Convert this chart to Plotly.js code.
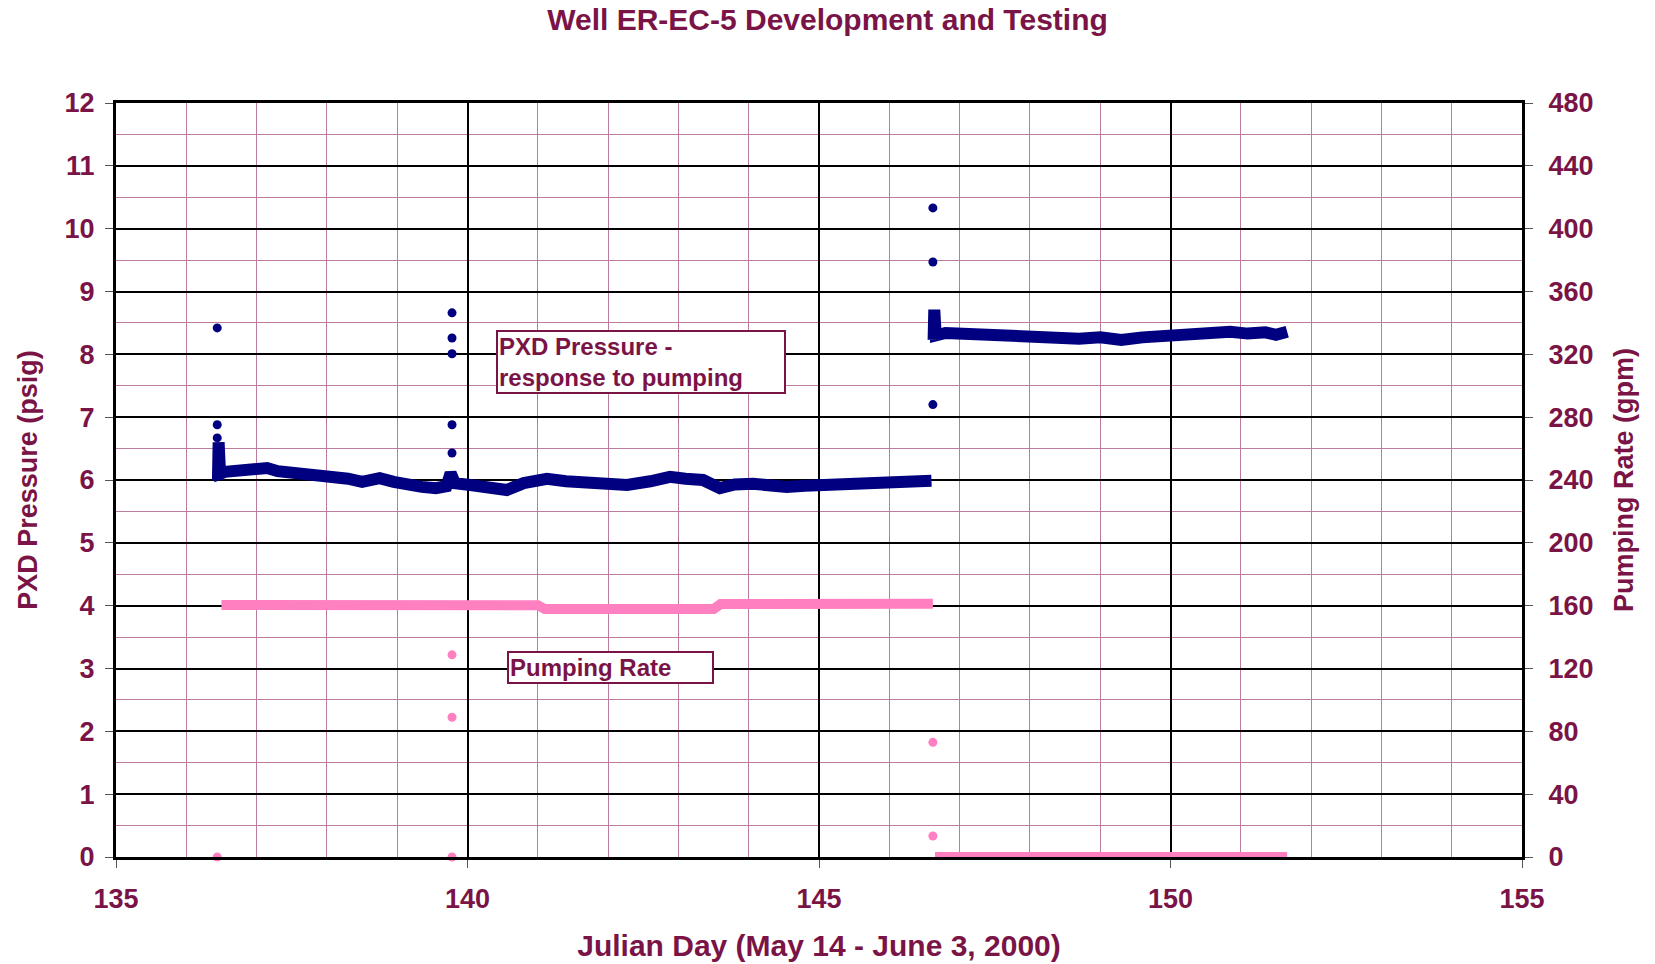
<!DOCTYPE html>
<html>
<head>
<meta charset="utf-8">
<script src="https://cdn.plot.ly/plotly-3.0.1.min.js"></script>
<style>
  html, body { margin: 0; padding: 0; background: #ffffff; }
  #chart { width: 1655px; height: 964px; }
</style>
</head>
<body>
<div id="chart"></div>
<script>
// Well ER-EC-5: transducer pressure and pumping rate by Julian day

// PXD pressure (psig), first pumping period
const pressureDayA = [136.45, 136.46, 136.48, 136.55, 136.8, 137.0, 137.15, 137.3, 137.6, 137.8,
  138.04, 138.3, 138.5, 138.75, 138.95, 139.14, 139.35, 139.55, 139.7, 139.76, 139.82,
  140.04, 140.3, 140.56, 140.8, 141.13, 141.4, 141.7, 142.0, 142.27, 142.6, 142.88,
  143.1, 143.35, 143.59, 143.8, 144.06, 144.3, 144.54, 144.8, 145.01, 145.4, 145.72,
  146.0, 146.3, 146.6];
const pressureA = [6.0, 6.6, 6.1, 6.13, 6.15, 6.14, 6.19, 6.14, 6.11, 6.08,
  6.05, 6.02, 5.97, 6.03, 5.97, 5.92, 5.89, 5.87, 5.9, 6.11, 5.95,
  5.92, 5.9, 5.84, 5.95, 6.02, 5.98, 5.95, 5.96, 5.92, 5.98, 6.05,
  6.02, 6.0, 5.87, 5.93, 5.94, 5.91, 5.89, 5.91, 5.92, 5.94, 5.96,
  5.97, 5.99, 5.99];

// PXD pressure (psig), after pumping stopped
const pressureDayB = [146.63, 146.64, 146.66, 146.8, 147.0, 147.5, 148.0, 148.43, 148.7, 149.0,
  149.3, 149.6, 150.0, 150.3, 150.6, 150.85, 151.1, 151.35, 151.5, 151.66];
const pressureB = [8.23, 8.71, 8.3, 8.34, 8.33, 8.3, 8.28, 8.22, 8.25, 8.27,
  8.23, 8.27, 8.3, 8.31, 8.3, 8.36, 8.33, 8.35, 8.31, 8.36];

// Isolated pressure readings at pump start/stop
const pressureSpotDay = [136.44, 136.44, 136.44, 139.78, 139.78, 139.78, 139.78, 139.78, 146.62, 146.62, 146.62];
const pressureSpot = [8.42, 6.88, 6.67, 8.66, 8.26, 8.01, 6.88, 6.43, 10.33, 9.47, 7.2];

// Pumping rate (gpm) while pumping
const rateDayA = [136.5, 137.5, 138.5, 139.5, 140.5, 141.0, 141.1, 142.0, 143.0, 143.5, 143.6, 144.5, 145.5, 146.62];
const rateA = [160.5, 160.8, 160.6, 160.8, 160.7, 160.3, 157.8, 157.6, 157.4, 157.8, 161.0, 161.2, 161.0, 161.2];

// Pumping rate (gpm) after shutdown
const rateDayB = [146.65, 147.5, 148.5, 149.5, 150.5, 151.66];
const rateB = [0, 0, 0, 0, 0, 0];

// Isolated rate readings at pump start/stop
const rateSpotDay = [136.44, 139.78, 139.78, 139.78, 146.62, 146.62];
const rateSpot = [0, 128.7, 89, 0, 73, 13.4];

const xTicks = [135, 140, 145, 150, 155];

const MAROON = '#7a1446';
const NAVY = '#000080';
const PINK = '#ff80c0';
const MINOR = '#bd7c9e';
const SANS = 'Liberation Sans, Arial, sans-serif';
const LABEL_FONT = { family: SANS, size: 27, color: MAROON, weight: 'bold' };
const YTITLE_FONT = { family: SANS, size: 27, color: MAROON, weight: 'bold' };

const traces = [
  {
    x: rateDayA, y: rateA, yaxis: 'y2', type: 'scatter', mode: 'lines',
    line: { color: PINK, width: 10 }
  },
  {
    x: rateDayB, y: rateB, yaxis: 'y2', type: 'scatter', mode: 'lines',
    line: { color: PINK, width: 10 }
  },
  {
    x: rateSpotDay, y: rateSpot, yaxis: 'y2', type: 'scatter', mode: 'markers',
    marker: { color: PINK, size: 9, symbol: 'circle' }, cliponaxis: false
  },
  {
    x: pressureDayA, y: pressureA, type: 'scatter', mode: 'lines',
    line: { color: NAVY, width: 12 }
  },
  {
    x: pressureDayB, y: pressureB, type: 'scatter', mode: 'lines',
    line: { color: NAVY, width: 12 }
  },
  {
    x: pressureSpotDay, y: pressureSpot, type: 'scatter', mode: 'markers',
    marker: { color: NAVY, size: 9, symbol: 'circle' }
  }
];

const layout = {
  width: 1655,
  height: 964,
  margin: { l: 116, r: 133, t: 103, b: 107 },
  paper_bgcolor: '#ffffff',
  plot_bgcolor: '#ffffff',
  showlegend: false,
  title: {
    text: 'Well ER-EC-5 Development and Testing',
    font: { family: SANS, size: 30, color: MAROON, weight: 'bold' },
    x: 0.5, xanchor: 'center', y: 0.98, yanchor: 'middle'
  },
  xaxis: {
    range: [135, 155],
    tickvals: xTicks,
    ticktext: xTicks.map(String),
    showgrid: true, gridcolor: '#000000', gridwidth: 2,
    minor: { dtick: 1, tick0: 135, showgrid: true, gridcolor: MINOR, gridwidth: 1 },
    zeroline: false,
    showline: true, linecolor: '#000000', linewidth: 3, mirror: true,
    ticks: 'outside', ticklen: 8, tickcolor: '#555555', tickwidth: 1,
    ticklabelstandoff: 8,
    tickfont: LABEL_FONT,
    title: { text: 'Julian Day (May 14 - June 3, 2000)', font: { family: SANS, size: 30, color: MAROON, weight: 'bold' }, standoff: 22 }
  },
  yaxis: {
    range: [0, 12],
    dtick: 1, tick0: 0,
    showgrid: true, gridcolor: '#000000', gridwidth: 2,
    minor: { dtick: 0.5, tick0: 0, showgrid: true, gridcolor: MINOR, gridwidth: 1 },
    zeroline: false,
    showline: true, linecolor: '#000000', linewidth: 3, mirror: true,
    ticks: 'outside', ticklen: 8, tickcolor: '#555555', tickwidth: 1,
    ticklabelstandoff: 5,
    tickfont: LABEL_FONT,
    title: { text: 'PXD Pressure (psig)', font: YTITLE_FONT, standoff: 20 }
  },
  yaxis2: {
    overlaying: 'y', side: 'right',
    range: [0, 480],
    dtick: 40, tick0: 0,
    showgrid: false, zeroline: false,
    showline: true, linecolor: '#000000', linewidth: 3,
    ticks: 'outside', ticklen: 8, tickcolor: '#555555', tickwidth: 1,
    ticklabelstandoff: 10,
    tickfont: LABEL_FONT,
    title: { text: 'Pumping Rate (gpm)', font: YTITLE_FONT, standoff: 22 }
  },
  annotations: [
    {
      xref: 'x', yref: 'y', x: 140.4, y: 8.39, xanchor: 'left', yanchor: 'top',
      text: 'PXD Pressure -<br>response to pumping', showarrow: false,
      align: 'left', width: 284,
      font: { family: SANS, size: 24, color: MAROON, weight: 'bold' },
      bgcolor: '#ffffff', bordercolor: MAROON, borderwidth: 2, borderpad: 1
    },
    {
      xref: 'x', yref: 'y', x: 140.56, y: 3.28, xanchor: 'left', yanchor: 'top',
      text: 'Pumping Rate', showarrow: false,
      align: 'left', width: 201,
      font: { family: SANS, size: 24, color: MAROON, weight: 'bold' },
      bgcolor: '#ffffff', bordercolor: MAROON, borderwidth: 2, borderpad: 1
    }
  ]
};

Plotly.newPlot('chart', traces, layout, { displayModeBar: false, staticPlot: true });
</script>
</body>
</html>
